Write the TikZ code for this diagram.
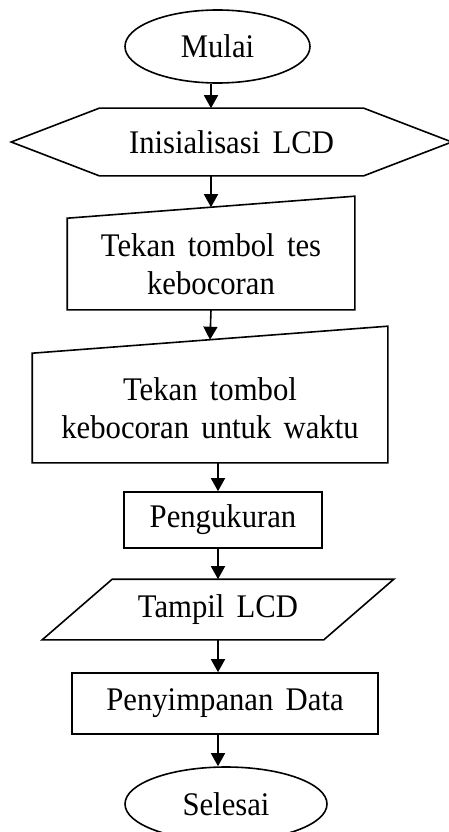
\documentclass[tikz,border=0pt]{standalone}
\usepackage{fontspec}
\setmainfont[WordSpace=1.6, FakeStretch=0.93]{Liberation Serif}
\usetikzlibrary{shapes.geometric,arrows.meta}

\tikzset{
    teks/.style={font=\fontsize{33}{38}\selectfont, align=center, inner sep=0pt},
    bentuk/.style={teks, line width=1.6pt},
    garis/.style={line width=1.6pt},
    panah/.style={line width=1.6pt, -{Triangle[length=13pt,width=14pt]}}
}

\begin{document}
\begin{tikzpicture}[x=1pt, y=-1pt]
    \useasboundingbox (0,0) rectangle (448,832);

    % Mulai
    \node[bentuk, draw, ellipse, minimum width=185pt, minimum height=73pt] (mulai) at (217.5,46.5) {Mulai};

    % Inisialisasi (segi enam)
    \node[bentuk, minimum width=439pt, minimum height=66pt] (init) at (231.5,142) {Inisialisasi LCD};
    \draw[garis] (init.west) -- ([xshift=88pt]init.north west) -- ([xshift=-88pt]init.north east)
        -- (init.east) -- ([xshift=-88pt]init.south east) -- ([xshift=88pt]init.south west) -- cycle;

    % Input manual
    \node[bentuk, minimum width=286pt, minimum height=90pt] (tekan1) at (211,264) {Tekan tombol tes\\kebocoran};
    \draw[garis] (tekan1.south west) -- (tekan1.south east) -- ([yshift=22pt]tekan1.north east)
        -- (tekan1.north west) -- cycle;

    \node[bentuk, minimum width=354pt, minimum height=108pt] (tekan2) at (210,408) {Tekan tombol\\kebocoran untuk waktu};
    \draw[garis] (tekan2.south west) -- (tekan2.south east) -- ([yshift=27pt]tekan2.north east)
        -- (tekan2.north west) -- cycle;

    % Proses
    \node[bentuk, draw, minimum width=198pt, minimum height=56pt] (ukur) at (223,520) {Pengukuran};

    % Output (jajaran genjang)
    \node[bentuk, minimum width=210pt, minimum height=59pt] (tampil) at (218,609.5) {Tampil LCD};
    \draw[garis] ([xshift=-70pt]tampil.south west) -- (tampil.south east) -- ([xshift=70pt]tampil.north east)
        -- (tampil.north west) -- cycle;

    \node[bentuk, draw, minimum width=306pt, minimum height=61pt] (simpan) at (225,703.5) {Penyimpanan Data};

    % Selesai
    \node[bentuk, draw, ellipse, minimum width=202pt, minimum height=74pt] (selesai) at (226,804) {Selesai};

    % Panah
    \draw[panah] (mulai.south -| tekan1) -- (init.north -| tekan1);
    \draw[panah] (init.south -| tekan1) -- ([yshift=11pt]tekan1.north);
    \draw[panah] (tekan1.south) -- ([yshift=13.5pt]tekan2.north);
    \draw[panah] (tekan2.south -| tampil) -- (ukur.north -| tampil);
    \draw[panah] (ukur.south -| tampil) -- (tampil.north);
    \draw[panah] (tampil.south) -- (simpan.north -| tampil);
    \draw[panah] (simpan.south -| tampil) -- (selesai.north -| tampil);
\end{tikzpicture}
\end{document}
